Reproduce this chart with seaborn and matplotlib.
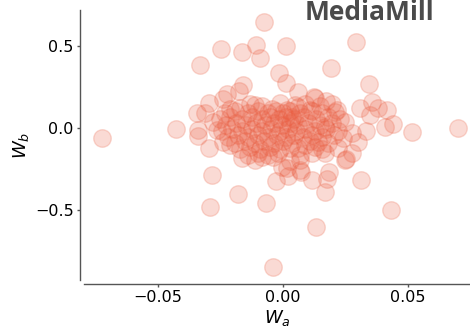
import matplotlib
matplotlib.use("Agg")
import matplotlib.pyplot as plt
import seaborn as sns
import pandas as pd

wa = [-0.0076, -0.0248, -0.0164, -0.0108, 0.0012, -0.0092, -0.0332, 0.0292, 0.0192, -0.0016,
      0.0012, 0.0344, 0.006, -0.016, -0.0176, -0.0224, -0.024, 0.0124, 0.0172, -0.0724,
      -0.0428, -0.0344, -0.034, -0.0296, -0.0296, 0.0308, 0.0356, 0.038, 0.0416, 0.0348,
      0.0408, 0.044, 0.0516, 0.07, 0.0332, 0.0276, 0.03, 0.0252, -0.0284, -0.018,
      -0.0292, -0.0068, -0.0028, 0.002, 0.0072, 0.0116, 0.0176, 0.0168, 0.0184, 0.0312,
      0.0432, 0.0132, -0.004, 0.0068, 0.0248, 0.0276, 0.022, 0.024, 0.0168, -0.0164,
      -0.028, -0.0312, -0.034, -0.0212, -0.024, -0.0264, -0.0084, -0.004, -0.0004, 0.0016,
      0.014, 0.0088, 0.006, 0.0028, 0.0128, 0.006, 0.0108, 0.0036, 0.0216, 0.0248,
      0.0168, -0.0112, -0.0172, -0.0212, -0.0044, 0.0016,
      -0.0132, -0.0084, -0.0012, 0.0048, 0.0088, 0.0148, 0.0196,
      -0.0232, -0.0192, -0.014, -0.01, -0.006, -0.0028, 0.0, 0.0028, 0.0068, 0.0116, 0.0156, 0.0208,
      -0.0252, -0.0212, -0.0164, -0.0124, -0.0084, -0.0052, -0.0016, 0.0012, 0.0044, 0.0084, 0.0132, 0.018, 0.0228,
      -0.0228, -0.0188, -0.0148, -0.0108, -0.0072, -0.0036, -0.0004, 0.0028, 0.006, 0.01, 0.0148, 0.0196,
      -0.0244, -0.0204, -0.0164, -0.0124, -0.0084, -0.0048, -0.0012, 0.002, 0.0052, 0.0088, 0.0128, 0.0172, 0.022,
      -0.022, -0.018, -0.014, -0.01, -0.006, -0.0024, 0.0012, 0.0044, 0.008, 0.0116, 0.0156, 0.0204,
      -0.0192, -0.0152, -0.0112, -0.0076, -0.0036, 0.0, 0.0036, 0.0108, 0.018,
      -0.0172, -0.0132, -0.0092, -0.0052, -0.0012, 0.0128, 0.0156,
      -0.014, -0.01, -0.006, -0.002, 0.0068, 0.0116,
      -0.0112, 0.0028, 0.0068]

wb = [0.646, 0.482, 0.463, 0.506, 0.50, 0.427, 0.384, 0.524, 0.366, 0.335,
      0.274, 0.268, 0.22, 0.262, 0.226, 0.207, 0.177, 0.189, 0.165, -0.061,
      -0.006, 0.091, -0.049, -0.122, 0.152, 0.122, 0.159, 0.122, 0.11, 0.079,
      0.006, 0.024, -0.024, 0.0, -0.018, -0.03, -0.085, -0.189, -0.287, -0.402,
      -0.482, -0.457, -0.323, -0.293, -0.268, -0.317, -0.311, -0.39, -0.268, -0.317,
      -0.5, -0.604, -0.848, -0.256, -0.195, -0.152, -0.122, -0.061, -0.152, -0.183,
      0.037, 0.091, -0.012, -0.104, -0.085, -0.012, -0.177, -0.177, -0.238, -0.244,
      -0.085, -0.104, -0.122, -0.122, 0.183, 0.128, 0.11, 0.067, 0.11, 0.037,
      0.006, 0.14, 0.122, 0.116, 0.116, 0.11,
      0.146, 0.134, 0.152, 0.14, 0.146, 0.134, 0.146,
      0.091, 0.104, 0.091, 0.104, 0.091, 0.104, 0.091, 0.104, 0.091, 0.104, 0.091, 0.098,
      0.055, 0.067, 0.055, 0.067, 0.055, 0.067, 0.055, 0.067, 0.055, 0.067, 0.055, 0.067, 0.055,
      0.018, 0.03, 0.018, 0.03, 0.018, 0.03, 0.018, 0.03, 0.018, 0.03, 0.018, 0.03,
      -0.018, -0.006, -0.018, -0.006, -0.018, -0.006, -0.018, -0.006, -0.018, -0.006, -0.018, -0.006, -0.018,
      -0.055, -0.043, -0.055, -0.043, -0.055, -0.043, -0.055, -0.043, -0.055, -0.043, -0.055, -0.043,
      -0.091, -0.079, -0.091, -0.079, -0.091, -0.079, -0.091, -0.079, -0.091,
      -0.128, -0.116, -0.128, -0.116, -0.128, -0.116, -0.128,
      -0.165, -0.152, -0.165, -0.152, -0.165, -0.152,
      -0.195, -0.201, -0.195]

title = "MediaMill"
xticks = [-0.05, 0.0, 0.05]
yticks = [-0.5, 0.0, 0.5]

df = pd.DataFrame({"wa": wa, "wb": wb})

sns.set_style("ticks")
plt.rcParams["font.family"] = ["DejaVu Sans"]

fig = plt.figure(figsize=(4.7, 3.33), dpi=100)
ax = fig.add_axes([84 / 470, 53 / 333, 386 / 470, 270 / 333])

color = "#ea5a3d"
sns.scatterplot(data=df, x="wa", y="wb", ax=ax, s=160, color=color, alpha=0.22,
                edgecolor=color, linewidth=1.0)

ax.set_xlim(-0.0796, 0.0748)
ax.set_ylim(-0.927, 0.72)
ax.set_xticks(xticks)
ax.set_xticklabels(["\u22120.05", "0.00", "0.05"])
ax.set_yticks(yticks)
ax.set_yticklabels(["\u22120.5", "0.0", "0.5"])
ax.tick_params(labelsize=11.5, length=2.5, width=1, color="#555555", pad=2,
               labelcolor="black")
ax.set_xlabel("$W_a$", fontsize=13, labelpad=2, color="black")
ax.set_ylabel("$W_b$", fontsize=13, labelpad=3, color="black")

sns.despine(ax=ax, offset=3)
for s in ["left", "bottom"]:
    ax.spines[s].set_color("#555555")
    ax.spines[s].set_linewidth(1.0)

fig.text(369.5 / 470, 1 - 13 / 333, title, ha="center", va="center",
         fontsize=19, fontweight="bold", color="#4a4a4a", family="Open Sans")

fig.savefig("out.png", dpi=100)
